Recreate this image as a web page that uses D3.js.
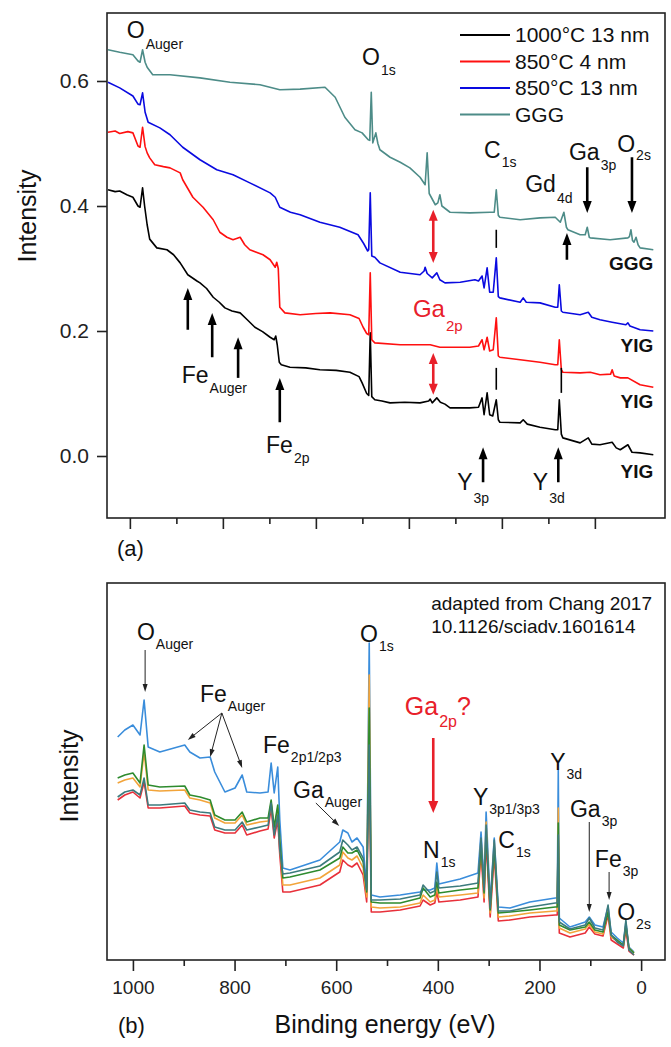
<!DOCTYPE html>
<html>
<head>
<meta charset="utf-8">
<script src="https://cdn.jsdelivr.net/npm/d3@7"></script>
<style>
  body { margin: 0; background: #fff; }
  svg { display: block; font-family: "Liberation Sans", Arial, sans-serif; }
</style>
</head>
<body>
<svg width="671" height="1047"></svg>
<script>
// ---- panel (a): Arb. intensity vs binding energy (eV), [energy, intensity]
const yig1000 = [[1049,.426],[1035,.423],[1026,.424],[1012,.418],[1000,.414],[990,.400],[986,.398],[981,.429],[977,.400],[972,.370],[967,.347],[953,.333],[933,.330],[920,.322],[907,.309],[892,.290],[874,.280],[868,.277],[855,.268],[842,.254],[830,.246],[819,.237],[805,.232],[789,.229],[775,.218],[760,.206],[745,.199],[730,.190],[722,.186],[719,.192],[716,.178],[712,.150],[708,.146],[691,.142],[660,.141],[632,.138],[600,.137],[573,.134],[555,.127],[549,.117],[540,.100],[536,.097],[533,.197],[530,.095],[524,.090],[510,.088],[494,.085],[465,.086],[435,.085],[418,.088],[415,.091],[411,.085],[402,.093],[395,.086],[386,.083],[376,.077],[337,.077],[320,.078],[313,.093],[309,.066],[303,.101],[298,.066],[292,.064],[285,.090],[281,.058],[278,.054],[238,.053],[232,.058],[224,.051],[199,.046],[169,.042],[164,.042],[161,.090],[157,.035],[154,.029],[120,.021],[104,.029],[97,.019],[81,.018],[57,.022],[49,.013],[41,.010],[26,.018],[18,.006],[2,.005],[-24,.002]];
const yig850thin = [[1049,.518],[1035,.520],[1026,.516],[1010,.519],[1000,.517],[990,.496],[986,.494],[981,.526],[976,.495],[972,.485],[967,.477],[957,.466],[940,.463],[927,.461],[907,.453],[902,.442],[892,.428],[882,.414],[862,.398],[842,.378],[829,.358],[815,.350],[803,.346],[789,.350],[780,.338],[770,.330],[744,.322],[730,.314],[720,.302],[717,.310],[714,.300],[711,.238],[701,.229],[671,.226],[640,.228],[612,.229],[573,.226],[555,.220],[547,.206],[540,.196],[536,.194],[533,.293],[530,.186],[524,.181],[474,.178],[415,.178],[396,.174],[337,.174],[320,.176],[313,.186],[309,.170],[303,.190],[298,.168],[291,.170],[285,.221],[281,.160],[278,.158],[238,.154],[199,.150],[169,.146],[164,.146],[161,.186],[157,.138],[154,.134],[120,.133],[100,.134],[81,.130],[60,.131],[57,.138],[53,.128],[41,.125],[26,.125],[2,.114],[-24,.110]];
const yig850thick = [[1049,.598],[1026,.589],[1000,.576],[990,.563],[986,.562],[981,.581],[976,.550],[970,.534],[947,.525],[927,.514],[902,.494],[868,.474],[835,.458],[803,.450],[770,.437],[730,.421],[720,.414],[711,.398],[690,.390],[671,.386],[632,.374],[593,.366],[557,.354],[546,.340],[538,.328],[536,.330],[533,.421],[530,.320],[524,.318],[514,.309],[474,.294],[435,.290],[427,.296],[425,.302],[421,.292],[411,.285],[402,.293],[396,.282],[386,.277],[356,.278],[327,.282],[320,.280],[313,.288],[309,.269],[303,.301],[298,.262],[291,.262],[285,.317],[281,.255],[278,.253],[238,.246],[232,.253],[226,.246],[199,.245],[169,.238],[164,.238],[161,.274],[157,.232],[154,.230],[120,.226],[104,.230],[97,.222],[81,.218],[57,.214],[30,.210],[26,.213],[22,.208],[2,.202],[-24,.200]];
const ggg = [[1049,.650],[1026,.646],[1000,.642],[990,.632],[986,.630],[981,.650],[976,.630],[972,.622],[961,.610],[927,.610],[868,.605],[809,.598],[750,.594],[711,.586],[671,.587],[622,.590],[602,.574],[583,.542],[563,.522],[549,.517],[537,.506],[534,.505],[531,.582],[528,.501],[522,.517],[518,.500],[514,.490],[494,.478],[474,.470],[455,.461],[435,.446],[425,.434],[421,.485],[417,.420],[405,.402],[400,.405],[396,.418],[392,.400],[376,.390],[337,.389],[297,.390],[289,.390],[285,.426],[281,.385],[278,.382],[238,.378],[199,.381],[169,.382],[159,.374],[152,.390],[147,.366],[144,.362],[120,.354],[110,.354],[106,.366],[102,.350],[100,.349],[61,.346],[26,.349],[23,.351],[20,.362],[17,.345],[14,.342],[10,.350],[6,.338],[2,.333],[-24,.330]];

const aNames = ['1000°C 13 nm', '850°C 4 nm', '850°C 13 nm', 'GGG'];
const aColors = ['#000000', '#ff1010', '#0a0ae0', '#4d8c88'];
const aYTicks = [0, 0.2, 0.4, 0.6];
const aXTicks = [1006, 914.5, 823, 731.5, 640, 548.5, 457, 365.5, 274, 182.5, 91];

// ---- panel (b): adapted from Chang 2017, intensity in arbitrary units
const bEnergy = [1030,1016,1000,986,978,970,947,898,888,868,848,839,819,799,785,776,750,734,728,722,715,711,705,691,632,593,587,577,569,559,547,540,535,531,514,474,435,429,415,406,402,398,356,321,315,309,305,297,289,281,258,219,169,165,163,161,140,110,102,91,75,65,59,47,35,30,24,14];
const bBlue = [22.3,23.0,23.5,22.5,26.0,21.3,20.8,21.5,20.8,20.2,20.3,18.8,16.8,17.2,18.5,16.8,16.7,16.8,19.7,16.7,19.3,14.0,9.2,9.0,10.0,11.8,13.0,12.7,11.8,12.2,11.3,7.3,31.7,6.5,6.3,6.5,6.8,7.0,7.0,7.2,9.7,7.6,8.1,8.7,12.8,7.7,14.8,5.7,12.2,5.3,5.2,5.8,6.2,6.2,19.0,4.2,3.3,3.8,4.3,3.5,3.3,5.3,2.8,2.2,1.7,3.8,1.3,0.8];
const bRed = [16.0,16.5,16.8,16.2,17.8,15.2,15.2,15.4,14.7,14.5,14.4,13.0,12.7,12.7,13.5,12.5,12.9,13.1,15.2,12.2,14.0,10.5,6.8,6.8,7.5,8.8,10.0,9.5,9.3,9.7,8.5,5.8,20.0,4.8,4.8,5.0,5.4,6.0,5.5,5.7,6.8,5.8,6.0,6.3,10.8,5.8,12.0,4.3,10.5,3.9,4.0,4.3,4.5,4.5,12.0,2.7,2.3,2.7,3.3,2.6,2.4,4.5,2.0,1.6,1.2,3.0,0.9,0.5];
const bOrange = [17.7,18.0,18.2,17.3,20.8,17.0,16.9,17.0,16.2,16.0,15.7,14.2,13.7,13.7,14.5,13.5,13.8,13.9,15.7,13.0,15.2,11.5,7.5,7.5,8.2,9.5,10.8,10.2,10.0,10.4,9.2,6.3,28.5,5.3,5.2,5.3,5.7,6.5,5.8,6.0,7.5,6.3,6.5,6.7,12.0,6.2,13.8,4.7,11.7,4.3,4.4,4.7,4.9,4.9,15.2,3.2,2.7,3.1,3.6,2.8,2.6,5.0,2.3,1.9,1.4,3.5,1.2,0.7];
const bGreen = [18.2,18.5,18.7,17.7,21.5,17.5,17.3,17.4,16.5,16.3,16.0,14.5,14.0,14.0,14.8,13.8,14.2,14.2,16.0,13.3,15.5,12.0,8.2,8.3,9.0,10.2,11.3,10.7,10.7,11.0,9.8,6.8,25.2,5.8,5.7,5.7,6.2,7.2,6.3,6.5,7.8,6.7,7.0,7.2,11.5,6.7,12.8,5.0,11.3,4.7,4.8,5.0,5.3,5.3,13.7,3.5,3.0,3.3,3.8,3.0,2.8,4.8,2.5,2.0,1.5,3.5,1.2,0.7];
const bTeal = [16.3,16.8,17.0,16.5,18.2,15.5,15.5,15.7,15.0,14.8,14.7,13.3,13.0,13.0,13.8,13.0,13.3,13.5,15.7,12.5,14.5,11.0,8.6,8.7,9.4,10.8,12.0,11.5,11.0,11.3,10.2,7.0,21.5,6.0,6.0,6.1,6.5,7.5,6.7,6.9,8.8,7.2,7.4,7.7,12.2,7.0,13.5,5.2,12.0,4.9,4.9,5.3,5.7,5.7,12.5,3.8,3.1,3.5,4.2,3.2,3.0,5.5,2.5,1.8,1.4,4.0,1.0,0.5];
const bColors = ['#3a8ddb', '#e8303a', '#f2a43a', '#2e8b2e', '#3c7b7d'];
const bXTicks = [1000, 800, 600, 400, 200, 0];
const bXMinor = [900, 700, 500, 300, 100];

const svg = d3.select('svg');
const left = 107;
const right = 665;

const x = d3.scaleLinear().domain([1051, -47]).range([left, right]);
const yA = d3.scaleLinear().domain([-0.0992, 0.7088]).range([518, 13]);
const yB = d3.scaleLinear().domain([0, 37.7]).range([960, 583]);

const red = '#e8202a';

function frame(top, bottom) {
  svg.append('rect')
    .attr('x', left).attr('y', top)
    .attr('width', right - left).attr('height', bottom - top)
    .attr('fill', 'none').attr('stroke', '#222').attr('stroke-width', 1.6);
}

function xAxis(values, size, y, labels) {
  const ax = d3.axisBottom(x).tickValues(values).tickSize(size)
    .tickFormat(labels ? d3.format('d') : '').tickPadding(10);
  const g = svg.append('g').attr('transform', `translate(0,${y})`).call(ax);
  g.select('.domain').remove();
  g.selectAll('line').attr('stroke', '#222').attr('stroke-width', 1.6);
  g.selectAll('text').attr('font-size', 19).attr('fill', '#222')
    .attr('font-family', '"Liberation Sans", Arial, sans-serif');
}

function arrowHead(g, x1, y1, x2, y2, len, w, color) {
  const a = Math.atan2(y2 - y1, x2 - x1);
  const bx = x2 - len * Math.cos(a);
  const by = y2 - len * Math.sin(a);
  const nx = -Math.sin(a) * w / 2;
  const ny = Math.cos(a) * w / 2;
  g.append('path')
    .attr('d', `M${x2},${y2}L${bx + nx},${by + ny}L${bx - nx},${by - ny}Z`)
    .attr('fill', color);
  return [bx + len * 0.3 * Math.cos(a), by + len * 0.3 * Math.sin(a)];
}

function arrow(g, x1, y1, x2, y2, o) {
  const [ex, ey] = arrowHead(g, x1, y1, x2, y2, o.len, o.w, o.color);
  g.append('line').attr('x1', x1).attr('y1', y1).attr('x2', ex).attr('y2', ey)
    .attr('stroke', o.color).attr('stroke-width', o.sw);
}

function doubleArrow(g, x1, y1, x2, y2, o) {
  const [ax, ay] = arrowHead(g, x2, y2, x1, y1, o.len, o.w, o.color);
  const [bx, by] = arrowHead(g, x1, y1, x2, y2, o.len, o.w, o.color);
  g.append('line').attr('x1', ax).attr('y1', ay).attr('x2', bx).attr('y2', by)
    .attr('stroke', o.color).attr('stroke-width', o.sw);
}

function label(g, px, py, main, sub, o) {
  const t = g.append('text').attr('x', px).attr('y', py)
    .attr('fill', o.color || '#111').attr('font-size', o.size);
  t.append('tspan').text(main);
  t.append('tspan').attr('font-size', o.sub).attr('dx', 1).attr('dy', o.dy).text(sub);
  if (o.tail) t.append('tspan').attr('dy', -o.dy).text(o.tail);
}

// ================= panel (a)
frame(13, 518);
const aSeries = [yig1000, yig850thin, yig850thick, ggg];
const lineA = d3.line().x(d => x(d[0])).y(d => yA(d[1]));
svg.append('g').selectAll('path').data(aSeries).join('path')
  .attr('d', lineA)
  .attr('fill', 'none')
  .attr('stroke', (d, i) => aColors[i])
  .attr('stroke-width', 1.6)
  .attr('stroke-linejoin', 'round');

xAxis(aXTicks.filter((d, i) => i % 2 === 0), 11, 518, false);
xAxis(aXTicks.filter((d, i) => i % 2 === 1), 6, 518, false);

const yAxisA = svg.append('g').attr('transform', `translate(${left},0)`)
  .call(d3.axisLeft(yA).tickValues(aYTicks).tickSize(10).tickPadding(8).tickFormat(d3.format('.1f')));
yAxisA.select('.domain').remove();
yAxisA.selectAll('line').attr('stroke', '#222').attr('stroke-width', 1.6);
yAxisA.selectAll('text').attr('font-size', 21).attr('fill', '#222')
  .attr('font-family', '"Liberation Sans", Arial, sans-serif');

// legend
const legend = svg.append('g').attr('font-size', 21).attr('fill', '#111');
aNames.forEach((n, i) => {
  const ly = 35 + i * 26.5;
  legend.append('line').attr('x1', 460).attr('x2', 510).attr('y1', ly).attr('y2', ly)
    .attr('stroke', aColors[i]).attr('stroke-width', 2);
  legend.append('text').attr('x', 515).attr('y', ly + 7).text(n);
});

const ga = svg.append('g');
const aLabels = [
  [1012, 0.669, 'O', 'Auger', 11],
  [549, 0.626, 'O', '1s', 10],
  [309, 0.477, 'C', '1s', 9],
  [228, 0.422, 'Gd', '4d', 11],
  [142, 0.474, 'Ga', '3p', 10],
  [47, 0.486, 'O', '2s', 8],
  [904, 0.117, 'Fe', 'Auger', 10],
  [738, 0.005, 'Fe', '2p', 10],
  [362, -0.054, 'Y', '3p', 13],
  [213, -0.054, 'Y', '3d', 13],
];
aLabels.forEach(([e, v, m, s, dy]) => label(ga, x(e), yA(v), m, s, { size: 23, sub: 14, dy }));
label(ga, x(449), yA(0.222), 'Ga', '2p', { size: 24, sub: 15, dy: 14, color: red });

const blackArrow = { len: 12, w: 9, sw: 2.6, color: '#000' };
const aArrows = [[106, .462, .389], [18, .478, .389], [146, .314, .357], [892, .202, .269],
  [844, .158, .229], [793, .125, .190], [711, .054, .125], [311, -.042, .014], [163, -.042, .014]];
aArrows.forEach(([e, v1, v2]) => arrow(ga, x(e), yA(v1), x(e), yA(v2), blackArrow));
[[409, .394, .309], [409, .165, .098]].forEach(([e, v1, v2]) =>
  doubleArrow(ga, x(e), yA(v1), x(e), yA(v2), { len: 11, w: 9, sw: 2.6, color: red }));
[[285, .362, .333], [285, .141, .106], [157, .141, .101]].forEach(([e, v1, v2]) =>
  ga.append('line').attr('x1', x(e)).attr('x2', x(e)).attr('y1', yA(v1)).attr('y2', yA(v2))
    .attr('stroke', '#000').attr('stroke-width', 1.6));

const tags = [['GGG', 0.298], ['YIG', 0.166], ['YIG', 0.077], ['YIG', -0.035]];
ga.selectAll('.tag').data(tags).join('text')
  .attr('x', x(-24)).attr('y', d => yA(d[1]))
  .attr('text-anchor', 'end').attr('font-weight', 'bold').attr('font-size', 19)
  .attr('fill', '#111').text(d => d[0]);

svg.append('text').attr('x', 117).attr('y', 556).attr('font-size', 22).attr('fill', '#111').text('(a)');
svg.append('text').attr('transform', 'translate(36,216) rotate(-90)')
  .attr('text-anchor', 'middle').attr('font-size', 25).attr('fill', '#111').text('Intensity');

// ================= panel (b)
frame(583, 960);
const bSeries = [bBlue, bRed, bOrange, bGreen, bTeal];
const lineB = d3.line().x((d, i) => x(bEnergy[i])).y(d => yB(d));
svg.append('g').selectAll('path').data(bSeries).join('path')
  .attr('d', lineB)
  .attr('fill', 'none')
  .attr('stroke', (d, i) => bColors[i])
  .attr('stroke-width', 1.6)
  .attr('stroke-linejoin', 'round');

xAxis(bXTicks, 11, 960, true);
xAxis(bXMinor, 6, 960, false);

const gb = svg.append('g');
const bLabels = [
  [992, 32.0, 'O', 'Auger'],
  [868, 25.8, 'Fe', 'Auger'],
  [744, 20.7, 'Fe', '2p1/2p3'],
  [685, 16.2, 'Ga', 'Auger'],
  [553, 31.8, 'O', '1s'],
  [179, 19.0, 'Y', '3d'],
  [331, 15.5, 'Y', '3p1/3p3'],
  [281, 11.2, 'C', '1s'],
  [429, 10.2, 'N', '1s'],
  [140, 14.3, 'Ga', '3p'],
  [91, 9.3, 'Fe', '3p'],
  [47, 4.0, 'O', '2s'],
];
bLabels.forEach(([e, v, m, s]) => label(gb, x(e), yB(v), m, s, { size: 23, sub: 14, dy: 9 }));
label(gb, x(465), yB(24.5), 'Ga', '2p', { size: 25, sub: 16, dy: 12, color: red, tail: '?' });

const thin = { len: 8, w: 5, sw: 1, color: '#222' };
const bArrows = [[976, 31.0, 976, 26.8], [825, 24.7, 892, 22.0], [825, 24.7, 848, 20.3],
  [825, 24.7, 785, 19.2], [640, 15.7, 594, 13.4], [102, 13.8, 102, 4.8], [63, 8.8, 63, 6.0]];
bArrows.forEach(([e1, v1, e2, v2]) => arrow(gb, x(e1), yB(v1), x(e2), yB(v2), thin));
arrow(gb, x(409), yB(22.2), x(409), yB(14.7), { len: 12, w: 10, sw: 2.6, color: red });

gb.append('text').attr('x', x(413)).attr('y', yB(35.0)).attr('font-size', 19).attr('fill', '#111')
  .text('adapted from Chang 2017');
gb.append('text').attr('x', x(413)).attr('y', yB(32.7)).attr('font-size', 19).attr('fill', '#111')
  .text('10.1126/sciadv.1601614');

svg.append('text').attr('x', 118).attr('y', 1033).attr('font-size', 22).attr('fill', '#111').text('(b)');
svg.append('text').attr('transform', 'translate(78,776) rotate(-90)')
  .attr('text-anchor', 'middle').attr('font-size', 25).attr('fill', '#111').text('Intensity');
svg.append('text').attr('x', 385).attr('y', 1033).attr('text-anchor', 'middle')
  .attr('font-size', 25).attr('fill', '#111').text('Binding energy (eV)');
</script>
</body>
</html>
